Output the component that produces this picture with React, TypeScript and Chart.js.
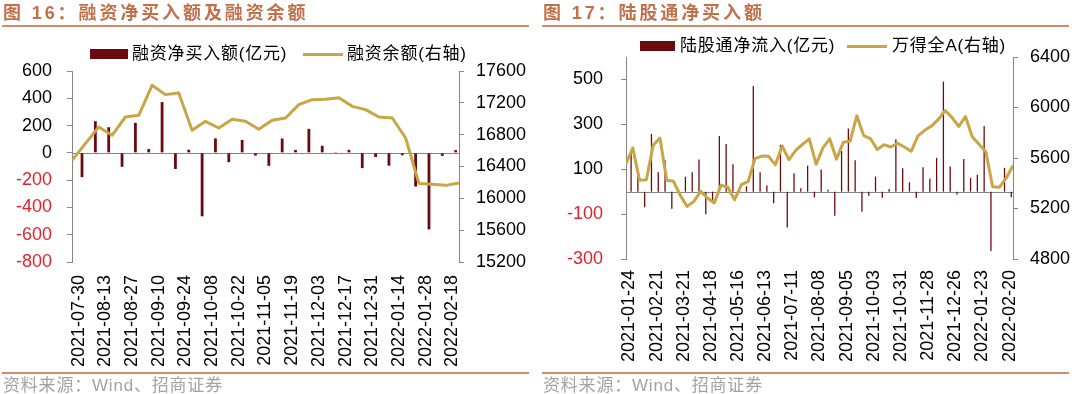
import React, { useEffect, useRef } from "react";
import { Chart, registerables } from "chart.js";

Chart.register(...registerables);

const BAR_COLOR = "#6B0B10";
const LINE_COLOR = "#C8A646";
const AXIS_COLOR = "#868686";
const NEG_COLOR = "#E3232B";
const TITLE_COLOR = "#C2704A";
const RULE_COLOR = "#D08C6C";
const SOURCE_COLOR = "#A3A3A3";

const NUM_FONT = '"Liberation Sans", Arial, sans-serif';
const CJK_FONT = '"Liberation Sans", "Noto Sans CJK SC", sans-serif';

// ---------- Figure 16: margin financing ----------
const marginDates = [
  "2021-07-30", "2021-08-06", "2021-08-13", "2021-08-20", "2021-08-27", "2021-09-03",
  "2021-09-10", "2021-09-17", "2021-09-24", "2021-10-01", "2021-10-08", "2021-10-15",
  "2021-10-22", "2021-10-29", "2021-11-05", "2021-11-12", "2021-11-19", "2021-11-26",
  "2021-12-03", "2021-12-10", "2021-12-17", "2021-12-24", "2021-12-31", "2022-01-07",
  "2022-01-14", "2022-01-21", "2022-01-28", "2022-02-11", "2022-02-18",
];
const marginNetBuy = [
  -178, 232, 188, -102, 220, 28, 372, -118, 23, -465, 106, -68, 95, -20, -95,
  105, 22, 176, 52, 6, 22, -112, -30, -94, -18, -247, -561, -22, 20,
];
const marginBalance = [
  16478, 16687, 16896, 16792, 17022, 17043, 17420, 17303, 17324, 16855, 16968, 16884,
  16993, 16968, 16867, 16980, 17009, 17177, 17240, 17244, 17265, 17156, 17115, 17022,
  17009, 16758, 16185, 16176, 16163, 16192,
];
const marginLeftTicks = [-800, -600, -400, -200, 0, 200, 400, 600];
const marginRightTicks = [15200, 15600, 16000, 16400, 16800, 17200, 17600];

// ---------- Figure 17: northbound ----------
const northDates = [
  "2021-01-24", "2021-01-31", "2021-02-07", "2021-02-14", "2021-02-21", "2021-02-28",
  "2021-03-07", "2021-03-14", "2021-03-21", "2021-03-28", "2021-04-04", "2021-04-11",
  "2021-04-18", "2021-04-25", "2021-05-02", "2021-05-09", "2021-05-16", "2021-05-23",
  "2021-05-30", "2021-06-06", "2021-06-13", "2021-06-20", "2021-06-27", "2021-07-04",
  "2021-07-11", "2021-07-18", "2021-07-25", "2021-08-01", "2021-08-08", "2021-08-15",
  "2021-08-22", "2021-08-29", "2021-09-05", "2021-09-12", "2021-09-19", "2021-09-26",
  "2021-10-03", "2021-10-10", "2021-10-17", "2021-10-24", "2021-10-31", "2021-11-07",
  "2021-11-14", "2021-11-21", "2021-11-28", "2021-12-05", "2021-12-12", "2021-12-19",
  "2021-12-26", "2022-01-02", "2022-01-09", "2022-01-16", "2022-01-23", "2022-01-30",
  "2022-02-06", "2022-02-13", "2022-02-20",
];
const northFlow = [
  182, 96, -69, 257, 87, 140, -76, 3, 66, 87,
  143, -101, -45, 248, 212, 122, 4, 24, 471, 87,
  27, -52, 209, -160, 82, 15, 116, -25, 99, 9,
  -107, 181, 281, 140, -90, -18, 67, -27, 12, 233,
  104, 42, -28, 109, 57, 151, 490, 112, -13, 145,
  61, 75, 293, -264, 0, 106, -25,
];
const windAllA = [
  5555, 5680, 5423, 5428, 5700, 5758, 5423, 5415, 5303, 5217,
  5256, 5336, 5283, 5244, 5385, 5368, 5270, 5389, 5415, 5595,
  5615, 5613, 5546, 5695, 5587, 5660, 5708, 5752, 5550, 5680,
  5752, 5590, 5724, 5732, 5935, 5778, 5754, 5668, 5705, 5687,
  5716, 5687, 5653, 5775, 5819, 5853, 5906, 5976, 5922, 5850,
  5928, 5768, 5709, 5650, 5372, 5368, 5442, 5540,
];
const northLeftTicks = [-300, -100, 100, 300, 500];
const northRightTicks = [4800, 5200, 5600, 6000, 6400];

const W = 540;
const H = 394;

type Spec = {
  dates: string[];
  bars: number[];
  line: number[];
  barName: string;
  lineName: string;
  leftTicks: number[];
  leftMin: number;
  leftMax: number;
  rightTicks: number[];
  labelEvery: number;
  area: { left: number; right: number; top: number; bottom: number };
  leftPad: number;
  rightPad: number;
  xPad: number;
  barPct: number;
};

const zeroLine = {
  id: "zeroLine",
  beforeDatasetsDraw(chart: any) {
    const { ctx, chartArea, scales } = chart;
    const y = Math.round(scales.y.getPixelForValue(0)) + 0.5;
    ctx.save();
    ctx.strokeStyle = AXIS_COLOR;
    ctx.lineWidth = 1;
    ctx.beginPath();
    ctx.moveTo(chartArea.left, y);
    ctx.lineTo(chartArea.right, y);
    ctx.stroke();
    ctx.restore();
  },
};

function buildConfig(s: Spec): any {
  const linePoints = s.line.map((v, i) => ({ x: i, y: v }));
  const numFont = { family: NUM_FONT, size: 18 };
  return {
    type: "bar",
    data: {
      labels: s.dates,
      datasets: [
        {
          type: "line",
          label: s.lineName,
          data: linePoints,
          xAxisID: "x2",
          yAxisID: "y1",
          borderColor: LINE_COLOR,
          backgroundColor: LINE_COLOR,
          borderWidth: 3,
          pointRadius: 0,
          tension: 0,
          borderJoinStyle: "round",
          order: 0,
        },
        {
          type: "bar",
          label: s.barName,
          data: s.bars,
          xAxisID: "x",
          yAxisID: "y",
          backgroundColor: BAR_COLOR,
          barPercentage: s.barPct,
          categoryPercentage: 1,
          order: 1,
        },
      ],
    },
    options: {
      responsive: false,
      animation: false,
      layout: { padding: { top: s.area.top, left: 0, right: 0, bottom: 0 } },
      plugins: { legend: { display: false }, tooltip: { enabled: false } },
      events: [],
      scales: {
        x: {
          type: "category",
          offset: true,
          position: "bottom",
          grid: { display: false, drawTicks: false },
          border: { display: false },
          ticks: {
            autoSkip: false,
            maxRotation: 90,
            minRotation: 90,
            padding: s.xPad,
            color: "#000",
            font: numFont,
            callback: (_v: any, i: number) => (i % s.labelEvery === 0 ? s.dates[i] : ""),
          },
          afterFit: (sc: any) => {
            sc.height = H - s.area.bottom;
          },
        },
        x2: {
          type: "linear",
          display: false,
          offset: false,
          grid: { offset: false },
          bounds: "ticks",
          min: 0,
          max: s.line.length - 1,
        },
        y: {
          type: "linear",
          position: "left",
          min: s.leftMin,
          max: s.leftMax,
          afterBuildTicks: (sc: any) => {
            sc.ticks = s.leftTicks.map((v) => ({ value: v }));
          },
          grid: { drawOnChartArea: false, drawTicks: true, tickLength: 5, color: AXIS_COLOR },
          border: { display: true, color: AXIS_COLOR, width: 1 },
          ticks: {
            padding: s.leftPad,
            font: numFont,
            color: (c: any) => (c.tick && c.tick.value < 0 ? NEG_COLOR : "#000"),
            callback: (v: any) => String(v),
          },
          afterFit: (sc: any) => {
            sc.width = s.area.left;
          },
        },
        y1: {
          type: "linear",
          position: "right",
          min: s.rightTicks[0],
          max: s.rightTicks[s.rightTicks.length - 1],
          afterBuildTicks: (sc: any) => {
            sc.ticks = s.rightTicks.map((v) => ({ value: v }));
          },
          grid: { drawOnChartArea: false, drawTicks: true, tickLength: 5, color: AXIS_COLOR },
          border: { display: true, color: AXIS_COLOR, width: 1 },
          ticks: {
            padding: s.rightPad,
            font: numFont,
            color: "#000",
            callback: (v: any) => String(v),
          },
          afterFit: (sc: any) => {
            sc.width = W - s.area.right;
          },
        },
      },
    },
    plugins: [zeroLine],
  };
}

const marginSpec: Spec = {
  dates: marginDates,
  bars: marginNetBuy,
  line: marginBalance,
  barName: "融资净买入额(亿元)",
  lineName: "融资余额(右轴)",
  leftTicks: marginLeftTicks,
  leftMin: -800,
  leftMax: 600,
  rightTicks: marginRightTicks,
  labelEvery: 2,
  area: { left: 72, right: 459, top: 71, bottom: 262 },
  leftPad: 15,
  rightPad: 12,
  xPad: 13,
  barPct: 0.42,
};

const northSpec: Spec = {
  dates: northDates,
  bars: northFlow,
  line: windAllA,
  barName: "陆股通净流入(亿元)",
  lineName: "万得全A(右轴)",
  leftTicks: northLeftTicks,
  leftMin: -300,
  leftMax: 600,
  rightTicks: northRightTicks,
  labelEvery: 4,
  area: { left: 86, right: 473, top: 57, bottom: 259 },
  leftPad: 18,
  rightPad: 12,
  xPad: 11,
  barPct: 0.38,
};

function ComboChart({ spec, offsetX }: { spec: Spec; offsetX: number }) {
  const ref = useRef<HTMLCanvasElement>(null);
  useEffect(() => {
    const chart = new Chart(ref.current as HTMLCanvasElement, buildConfig(spec));
    return () => chart.destroy();
  }, [spec]);
  return (
    <canvas
      ref={ref}
      width={W}
      height={H}
      style={{ position: "absolute", left: offsetX, top: 0, width: W, height: H }}
    />
  );
}

const abs = (s: React.CSSProperties): React.CSSProperties => ({ position: "absolute", ...s });

function Panel({
  x,
  title,
  spec,
  legendY,
  legend,
}: {
  x: number;
  title: string;
  spec: Spec;
  legendY: number;
  legend: { rectX: number; rectW: number; text1X: number; lineX: number; lineW: number; text2X: number };
}) {
  const legendText: React.CSSProperties = {
    fontFamily: CJK_FONT,
    fontSize: 17,
    lineHeight: "20px",
    color: "#000",
    whiteSpace: "nowrap",
    letterSpacing: "0.8px",
  };
  return (
    <>
      <ComboChart spec={spec} offsetX={x} />
      <div
        style={abs({
          left: x + 3,
          top: 3,
          fontFamily: CJK_FONT,
          fontSize: 18,
          lineHeight: "20px",
          fontWeight: 700,
          color: TITLE_COLOR,
          letterSpacing: "2.9px",
          whiteSpace: "nowrap",
        })}
      >
        {title}
      </div>
      <div style={abs({ left: x + 2, top: 25, width: 527, height: 2, background: RULE_COLOR })} />
      <div style={abs({ left: x + legend.rectX, top: legendY - 5, width: legend.rectW, height: 10, background: BAR_COLOR })} />
      <div style={abs({ ...legendText, left: x + legend.text1X, top: legendY - 10 })}>{spec.barName}</div>
      <div style={abs({ left: x + legend.lineX, top: legendY - 1.5, width: legend.lineW, height: 3, background: LINE_COLOR })} />
      <div style={abs({ ...legendText, left: x + legend.text2X, top: legendY - 10 })}>{spec.lineName}</div>
      <div style={abs({ left: x + 2, top: 372, width: 527, height: 2, background: RULE_COLOR })} />
      <div
        style={abs({
          left: x + 3,
          top: 377,
          fontFamily: CJK_FONT,
          fontSize: 17,
          lineHeight: "17px",
          color: SOURCE_COLOR,
          whiteSpace: "nowrap",
          letterSpacing: "0.8px",
        })}
      >
        资料来源：Wind、招商证券
      </div>
    </>
  );
}

export default function App() {
  return (
    <div style={{ position: "absolute", left: 0, top: 0, width: 1080, height: 394, background: "#fff", overflow: "hidden" }}>
      <Panel
        x={0}
        title="图 16：融资净买入额及融资余额"
        spec={marginSpec}
        legendY={54}
        legend={{ rectX: 90, rectW: 38, text1X: 132, lineX: 303, lineW: 40, text2X: 347 }}
      />
      <Panel
        x={540}
        title="图 17：陆股通净买入额"
        spec={northSpec}
        legendY={46}
        legend={{ rectX: 100, rectW: 35, text1X: 140, lineX: 307, lineW: 40, text2X: 352 }}
      />
    </div>
  );
}
